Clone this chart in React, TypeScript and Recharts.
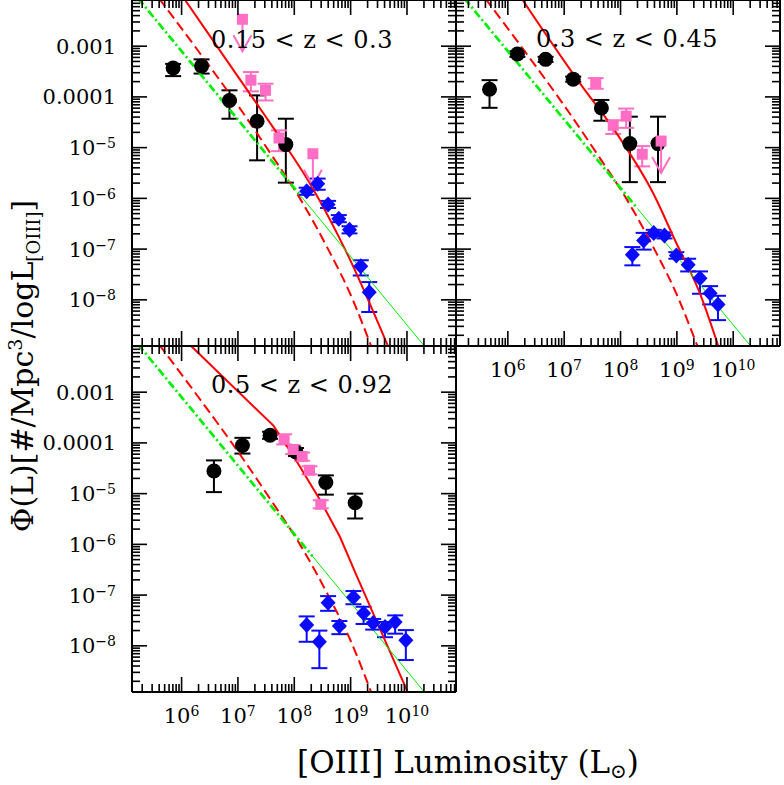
import React from "react";
import { ComposedChart, XAxis, YAxis, Scatter, Line, ErrorBar } from "recharts";

// rows: [log L, log Phi, lower bound, upper bound]
type Row = [number, number, number, number];

// 0.15 < z < 0.3
const p1Black: Row[] = [[5.85, -3.43, -3.59, -3.35], [6.355, -3.39, -3.54, -3.26], [6.85, -4.07, -4.43, -3.87], [7.34, -4.48, -5.25, -3.97], [7.85, -4.94, -5.69, -4.43]];
const p1Pink: Row[] = [[7.23, -3.67, -3.89, -3.51], [7.49, -3.87, -4.07, -3.74], [7.73, -4.81, -5.07, -4.66]];
const p1PinkLimits = [[7.08, -2.47], [8.33, -5.12]];
const p1Blue: Row[] = [[8.22, -5.86, -5.93, -5.79], [8.415, -5.71, -5.83, -5.61], [8.6, -6.12, -6.19, -6.05], [8.79, -6.4, -6.47, -6.33], [8.98, -6.62, -6.69, -6.55], [9.18, -7.34, -7.52, -7.22], [9.33, -7.85, -8.24, -7.65]];
const p1Model = [[6.05, -2.07], [7.0, -3.6], [7.63, -4.61], [8.3, -5.75], [8.93, -7.07], [9.67, -8.93]];
const p1GreenDashDot = [[5.23, -2.06], [8.12, -5.96]];
const p1GreenThin = [[8.12, -5.96], [10.3, -8.9]];

// 0.3 < z < 0.45
const p2Black: Row[] = [[5.675, -3.85, -4.215, -3.67], [6.17, -3.155, -3.21, -3.1], [6.67, -3.26, -3.31, -3.21], [7.16, -3.65, -3.7, -3.6], [7.66, -4.22, -4.47, -4.06], [8.165, -4.92, -5.68, -4.39], [8.665, -4.92, -5.68, -4.39]];
const p2Pink: Row[] = [[7.56, -3.72, -3.84, -3.63], [7.87, -4.56, -4.73, -4.46], [8.1, -4.38, -4.61, -4.23], [8.385, -5.13, -5.37, -4.97]];
const p2PinkLimits = [[8.72, -4.87]];
const p2Blue: Row[] = [[8.21, -7.11, -7.32, -6.96], [8.41, -6.83, -7.01, -6.68], [8.59, -6.685, -6.75, -6.62], [8.78, -6.73, -6.79, -6.67], [8.99, -7.125, -7.19, -7.06], [9.2, -7.31, -7.44, -7.19], [9.41, -7.575, -7.88, -7.44], [9.59, -7.87, -8.09, -7.73], [9.73, -8.09, -8.4, -7.92]];
const p2Model = [[6.25, -2.07], [7.27, -3.72], [7.925, -4.71], [8.575, -5.89], [8.99, -6.88], [9.4, -7.85], [9.74, -8.93]];
const p2GreenDashDot = [[5.23, -2.06], [8.3, -6.2]];
const p2GreenThin = [[8.3, -6.2], [10.3, -8.9]];

// 0.5 < z < 0.92
const p3Black: Row[] = [[6.574, -4.555, -4.97, -4.345], [7.08, -4.05, -4.21, -3.9], [7.57, -3.85, -3.92, -3.78], [8.03, -4.18, -4.26, -4.1], [8.56, -4.78, -5.02, -4.64], [9.08, -5.18, -5.49, -5.0]];
const p3Pink: Row[] = [[7.82, -3.93, -4.03, -3.83], [7.98, -4.13, -4.22, -4.05], [8.14, -4.27, -4.35, -4.19], [8.27, -4.54, -4.62, -4.46], [8.47, -5.21, -5.29, -5.13]];
const p3Blue: Row[] = [[8.22, -7.59, -7.92, -7.42], [8.445, -7.92, -8.44, -7.7], [8.6, -7.15, -7.31, -7.02], [8.8, -7.61, -7.77, -7.51], [9.05, -7.04, -7.18, -6.92], [9.23, -7.36, -7.57, -7.23], [9.4, -7.55, -7.68, -7.47], [9.61, -7.63, -7.83, -7.53], [9.79, -7.53, -7.76, -7.4], [9.98, -7.89, -8.28, -7.69]];
const p3Model = [[6.16, -2.08], [7.63, -3.66], [7.98, -4.25], [8.46, -5.13], [8.81, -5.85], [9.1, -6.6], [9.4, -7.36], [10.02, -8.93]];
const p3GreenDashDot = [[5.23, -2.06], [8.32, -6.23]];
const p3GreenThin = [[8.32, -6.23], [10.3, -8.9]];

// red dashed curve, same in every panel
const dashedLF = [[5.6, -2.06], [6.3, -3.1], [7.0, -4.17], [7.6, -5.15], [8.1, -6.0], [8.6, -7.0], [9.0, -7.9], [9.37, -8.93]];

const xTickLabels: [number, string, string][] = [[6, "10", "6"], [7, "10", "7"], [8, "10", "8"], [9, "10", "9"], [10, "10", "10"]];
const yTickLabels: [number, string, string][] = [[-3, "0.001", ""], [-4, "0.0001", ""], [-5, "10", "\u22125"], [-6, "10", "\u22126"], [-7, "10", "\u22127"], [-8, "10", "\u22128"]];

const Y_DOMAIN: [number, number] = [-8.91, -2.09];
const SERIF = "'DejaVu Serif', 'Liberation Serif', serif";
const PINK = "#ff6ec4";
const BLUE = "#0a0aff";
const RED = "#ff0000";
const GREEN = "#00ee00";

const logTicks = (lo: number, hi: number, from: number, to: number) => {
  const out: number[] = [];
  for (let n = from; n <= to; n++)
    for (let k = 1; k <= 9; k++) {
      const v = n + Math.log10(k);
      if (v >= lo && v <= hi) out.push(v);
    }
  return out;
};

const isMajor = (v: number) => Math.abs(v - Math.round(v)) < 1e-6;

const withErr = (rows: Row[]) => rows.map(([x, y, lo, hi]) => ({ x, y, err: [y - lo, hi - y] }));
const pts = (rows: number[][]) => rows.map(([x, y]) => ({ x, y }));

function makeTick(side: "bottom" | "top" | "left" | "right", labels: boolean) {
  return (p: any) => {
    const { x, y } = p;
    const v: number = p.payload.value;
    const len = isMajor(v) ? 15 : 8;
    const dx = side === "left" ? len : side === "right" ? -len : 0;
    const dy = side === "bottom" ? -len : side === "top" ? len : 0;
    let label: React.ReactNode = null;
    if (labels && side === "bottom") {
      const t = xTickLabels.find((r) => Math.abs(r[0] - v) < 1e-6);
      if (t)
        label = (
          <text x={x} y={y + 31} textAnchor="middle" fontFamily={SERIF} fontSize={21} fill="#000">
            {t[1]}
            <tspan dy={-7} fontSize={14}>{t[2]}</tspan>
          </text>
        );
    }
    if (labels && side === "left") {
      const t = yTickLabels.find((r) => Math.abs(r[0] - v) < 1e-6);
      if (t)
        label = (
          <text x={x - 16} y={y + 7.5} textAnchor="end" fontFamily={SERIF} fontSize={21} fill="#000">
            {t[1]}
            {t[2] && <tspan dy={-7} fontSize={14}>{t[2]}</tspan>}
          </text>
        );
    }
    return (
      <g>
        <line x1={x} y1={y} x2={x + dx} y2={y + dy} stroke="#000" strokeWidth={1.6} />
        {label}
      </g>
    );
  };
}

const BlackDot = (p: any) => <circle cx={p.cx} cy={p.cy} r={7.5} fill="#000" />;
const PinkSquare = (p: any) => <rect x={p.cx - 5.5} y={p.cy - 5.5} width={11} height={11} fill={PINK} />;
const BlueDiamond = (p: any) => (
  <path d={`M${p.cx},${p.cy - 8}L${p.cx + 7.5},${p.cy}L${p.cx},${p.cy + 8}L${p.cx - 7.5},${p.cy}Z`} fill={BLUE} />
);
const PinkLimit = (p: any) => (
  <g>
    <line x1={p.cx} y1={p.cy} x2={p.cx} y2={p.cy + 32} stroke={PINK} strokeWidth={2} />
    <polyline points={`${p.cx - 9},${p.cy + 16} ${p.cx},${p.cy + 32} ${p.cx + 9},${p.cy + 16}`} fill="none" stroke={PINK} strokeWidth={2} />
    <rect x={p.cx - 5.5} y={p.cy - 5.5} width={11} height={11} fill={PINK} />
  </g>
);

type PanelProps = {
  left: number;
  top: number;
  width: number;
  height: number;
  margin: { top: number; right: number; bottom: number; left: number };
  yAxisWidth: number;
  xAxisHeight: number;
  xDomain: [number, number];
  xLabels: boolean;
  yLabels: boolean;
  black: Row[];
  pink: Row[];
  limits: number[][];
  blue: Row[];
  model: number[][];
  modelLinear?: boolean;
  greenDashDot: number[][];
  greenThin: number[][];
};

function Panel(props: PanelProps) {
  const xt = logTicks(props.xDomain[0], props.xDomain[1], 5, 10);
  const yt = logTicks(Y_DOMAIN[0], Y_DOMAIN[1], -9, -3);
  return (
    <div style={{ position: "absolute", left: props.left, top: props.top }}>
      <ComposedChart width={props.width} height={props.height} margin={props.margin}>
        <XAxis xAxisId={0} dataKey="x" type="number" domain={props.xDomain} allowDataOverflow ticks={xt} interval={0}
          tickSize={0} tickMargin={0} tickLine={false} height={props.xAxisHeight}
          axisLine={{ stroke: "#000", strokeWidth: 2 }} tick={makeTick("bottom", props.xLabels)} />
        <XAxis xAxisId="t" orientation="top" dataKey="x" type="number" domain={props.xDomain} allowDataOverflow ticks={xt} interval={0}
          tickSize={0} tickMargin={0} tickLine={false} height={1}
          axisLine={{ stroke: "#000", strokeWidth: 2 }} tick={makeTick("top", false)} />
        <YAxis yAxisId={0} dataKey="y" type="number" domain={Y_DOMAIN} allowDataOverflow ticks={yt} interval={0}
          tickSize={0} tickMargin={0} tickLine={false} width={props.yAxisWidth}
          axisLine={{ stroke: "#000", strokeWidth: 2 }} tick={makeTick("left", props.yLabels)} />
        <YAxis yAxisId="r" orientation="right" dataKey="y" type="number" domain={Y_DOMAIN} allowDataOverflow ticks={yt} interval={0}
          tickSize={0} tickMargin={0} tickLine={false} width={1}
          axisLine={{ stroke: "#000", strokeWidth: 2 }} tick={makeTick("right", false)} />

        <Scatter data={withErr(props.black)} shape={BlackDot} isAnimationActive={false}>
          <ErrorBar dataKey="err" direction="y" width={8} stroke="#000" strokeWidth={2} isAnimationActive={false} />
        </Scatter>
        <Scatter data={withErr(props.pink)} shape={PinkSquare} isAnimationActive={false}>
          <ErrorBar dataKey="err" direction="y" width={8} stroke={PINK} strokeWidth={2} isAnimationActive={false} />
        </Scatter>
        <Scatter data={pts(props.limits)} shape={PinkLimit} isAnimationActive={false} />
        <Scatter data={withErr(props.blue)} shape={BlueDiamond} isAnimationActive={false}>
          <ErrorBar dataKey="err" direction="y" width={8} stroke={BLUE} strokeWidth={2} isAnimationActive={false} />
        </Scatter>

        <Line data={pts(dashedLF)} dataKey="y" type="monotoneX" stroke={RED} strokeWidth={2} strokeDasharray="10 5" dot={false} isAnimationActive={false} />
        <Line data={pts(props.model)} dataKey="y" type={props.modelLinear ? "linear" : "monotoneX"} stroke={RED} strokeWidth={2} dot={false} isAnimationActive={false} />
        <Line data={pts(props.greenDashDot)} dataKey="y" type="linear" stroke={GREEN} strokeWidth={2.7} strokeDasharray="8 3 2 3" dot={false} isAnimationActive={false} />
        <Line data={pts(props.greenThin)} dataKey="y" type="linear" stroke={GREEN} strokeWidth={1} dot={false} isAnimationActive={false} />
      </ComposedChart>
    </div>
  );
}

export default function App() {
  return (
    <div style={{ position: "absolute", left: 0, top: 0, width: 784, height: 785, background: "#fff", overflow: "hidden" }}>
      <Panel left={0} top={-1} width={459} height={350} margin={{ top: 0, right: 2, bottom: 2, left: 0 }}
        yAxisWidth={132} xAxisHeight={1} xDomain={[5.12, 10.87]} xLabels={false} yLabels
        black={p1Black} pink={p1Pink} limits={p1PinkLimits} blue={p1Blue} model={p1Model}
        greenDashDot={p1GreenDashDot} greenThin={p1GreenThin} />
      <Panel left={446} top={-1} width={338} height={391} margin={{ top: 0, right: 3, bottom: 0, left: 0 }}
        yAxisWidth={10} xAxisHeight={44} xDomain={[5.08, 10.83]} xLabels yLabels={false}
        black={p2Black} pink={p2Pink} limits={p2PinkLimits} blue={p2Blue} model={p2Model}
        greenDashDot={p2GreenDashDot} greenThin={p2GreenThin} />
      <Panel left={0} top={336} width={459} height={400} margin={{ top: 9, right: 2, bottom: 0, left: 0 }}
        yAxisWidth={132} xAxisHeight={44} xDomain={[5.12, 10.87]} xLabels yLabels
        black={p3Black} pink={p3Pink} limits={[]} blue={p3Blue} model={p3Model} modelLinear
        greenDashDot={p3GreenDashDot} greenThin={p3GreenThin} />

      <svg width={784} height={785} style={{ position: "absolute", left: 0, top: 0, pointerEvents: "none" }}>
        <g fontFamily={SERIF} fill="#000">
          <text x={302} y={48} fontSize={24} letterSpacing={0.5} textAnchor="middle">0.15 &lt; z &lt; 0.3</text>
          <text x={627} y={47} fontSize={24} letterSpacing={0.5} textAnchor="middle">0.3 &lt; z &lt; 0.45</text>
          <text x={302} y={393} fontSize={24} letterSpacing={0.5} textAnchor="middle">0.5 &lt; z &lt; 0.92</text>
          <text transform="translate(33,366) rotate(-90)" fontSize={30} textAnchor="middle">
            {"\u03a6(L)[#/Mpc"}
            <tspan dy={-11} fontSize={19}>3</tspan>
            <tspan dy={11}>/logL</tspan>
            <tspan dy={7} fontSize={18}>[OIII]</tspan>
            <tspan dy={-7}>]</tspan>
          </text>
          <text x={468} y={773} fontSize={31} textAnchor="middle">
            [OIII] Luminosity (L
            <tspan dy={5} fontSize={20}>{"\u2299"}</tspan>
            <tspan dy={-5}>)</tspan>
          </text>
        </g>
      </svg>
    </div>
  );
}
